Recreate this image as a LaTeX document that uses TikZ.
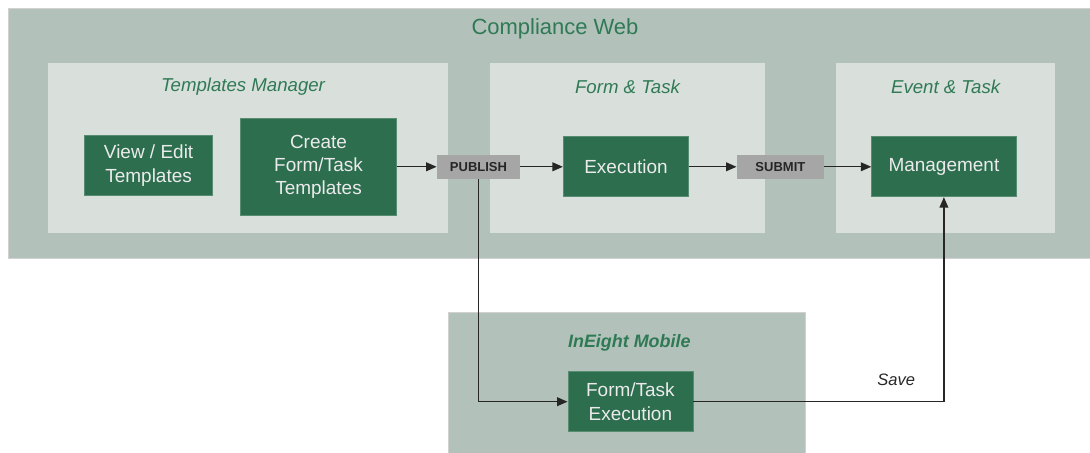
\documentclass[tikz,border=0pt]{standalone}
\usepackage{fontspec}
\setmainfont{Liberation Sans}
\usepackage{tikz}
\usetikzlibrary{arrows.meta}

\definecolor{webbg}{HTML}{B2C1B9}
\definecolor{panelbg}{HTML}{D9E0DC}
\definecolor{boxgreen}{HTML}{2D6E4F}
\definecolor{titlegreen}{HTML}{2F7A55}
\definecolor{tagbg}{HTML}{A6A6A6}

\begin{document}
\begin{tikzpicture}[
    x=0.2mm, y=-0.2mm,
    area/.style={fill=webbg, draw=black!18, line width=0.4pt, inner sep=0pt},
    panel/.style={fill=panelbg, inner sep=0pt},
    title/.style={text=titlegreen, font=\fontsize{12.5}{15}\selectfont},
    subtitle/.style={text=titlegreen, font=\fontsize{10.6}{13}\selectfont\itshape},
    box/.style={fill=boxgreen, draw=boxgreen!80!white, line width=0.4pt, text=white!92!black, align=center, inner sep=0pt, font=\fontsize{10.8}{13.3}\selectfont},
    tag/.style={fill=tagbg, text=black!85, inner sep=0pt, minimum height=0.49cm, font=\fontsize{7.4}{9}\selectfont\bfseries},
    arr/.style={-{Triangle[length=6pt,width=5pt]}, line width=0.8pt, black!85}
]
    \useasboundingbox (0,0) rectangle (1090,453);

    % compliance web and its three parts
    \node[area, minimum width=21.64cm, minimum height=5cm] (web) at (549,133) {};
    \node[title] (webtitle) at (555,29) {Compliance Web};
    \node[panel, minimum width=7.98cm, minimum height=3.4cm] (tm) at (248,148) {};
    \node[panel, minimum width=5.5cm, minimum height=3.4cm] (ft) at (627.5,148) {};
    \node[panel, minimum width=4.38cm, minimum height=3.4cm] (et) at (945,148) {};
    \node[subtitle] (tmtitle) at (243,87) {Templates Manager};
    \node[subtitle] (fttitle) at (627.5,87) {Form \& Task};
    \node[subtitle] (ettitle) at (945.6,87) {Event \& Task};

    % mobile
    \node[area, minimum width=7.14cm, minimum height=2.82cm] (mobile) at (626.5,382.5) {};
    \node[subtitle, font=\fontsize{10.2}{12}\selectfont\bfseries\itshape] (mobtitle) at (629.3,342.7) {InEight Mobile};

    \node[box, minimum width=2.56cm, minimum height=1.19cm] (view) at (148.6,165.5) {View / Edit\\Templates};
    \node[box, minimum width=3.12cm, minimum height=1.94cm] (create) at (318.5,166.8) {Create\\Form/Task\\Templates};
    \node[tag, minimum width=1.66cm] (publish) at (478.5,166.8) {PUBLISH};
    \node[box, minimum width=2.51cm, minimum height=1.2cm] (exec) at (626,166.8) {Execution};
    \node[tag, minimum width=1.74cm] (submit) at (780.4,166.8) {SUBMIT};
    \node[box, minimum width=2.89cm, minimum height=1.2cm] (mgmt) at (943.9,166.8) {Management};
    \node[box, minimum width=2.5cm, minimum height=1.2cm] (mobexec) at (630.4,401.7) {Form/Task\\Execution};

    \draw[arr] (create) -- (publish);
    \draw[arr] (publish) -- (exec);
    \draw[arr] (exec) -- (submit);
    \draw[arr] (submit) -- (mgmt);
    \draw[arr] (publish.south) |- (mobexec.west);
    \draw[arr] (mobexec.east) -| node[pos=0.405, above=8.5pt, inner sep=0pt, font=\fontsize{9.4}{11}\selectfont\itshape, text=black!85] (save) {Save} (mgmt.south);
\end{tikzpicture}
\end{document}
